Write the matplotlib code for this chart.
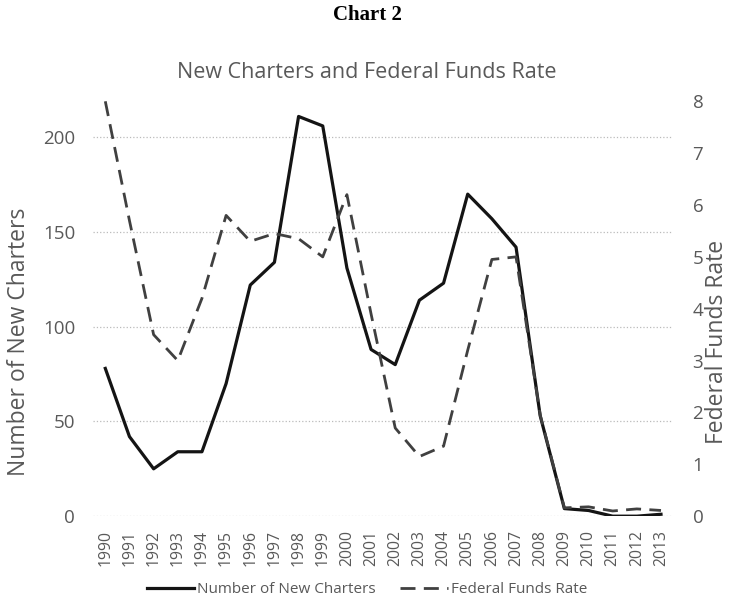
import numpy as np
from matplotlib import pyplot as plt

plt.rcParams['font.family'] = ['Open Sans', 'DejaVu Sans']

years = [str(y) for y in range(1990, 2014)]
charters = [78, 42, 25, 34, 34, 70, 122, 134, 211, 206, 131, 88, 80, 114, 123,
            170, 157, 142, 53, 4, 3, 0, 0, 1]
fed_rate = [8.0, 5.7, 3.5, 3.0, 4.2, 5.8, 5.3, 5.45, 5.35, 5.0, 6.2, 3.9, 1.7,
            1.15, 1.35, 3.2, 4.95, 5.0, 1.95, 0.16, 0.18, 0.1, 0.14, 0.11]

grey = '#595959'

fig = plt.figure(figsize=(7.34, 6.03), dpi=100)
# plot area: x 93..673 px, y 101..516 px
ax = fig.add_axes([0.127, 0.144, 0.79, 0.688])
ax2 = ax.twinx()

x = np.arange(len(years))
l1, = ax.plot(x, charters, color='#141414', lw=2.3, label='Number of New Charters')
l2, = ax2.plot(x, fed_rate, color='#404040', lw=2.0, dashes=(5.4, 3),
               label='Federal Funds Rate')

ax.set_xlim(-0.5, len(years) - 0.5)
ax.set_ylim(0, 219)
ax.set_yticks([0, 50, 100, 150, 200])
ax2.set_ylim(0, 8)
ax2.set_yticks(range(0, 9))

ax.set_xticks(x)
ax.set_xticklabels(years, rotation=90)
ax.grid(axis='y', color='#bbbbbb', ls=':', lw=0.9)
ax.set_axisbelow(True)

for a in (ax, ax2):
    for s in a.spines.values():
        s.set_visible(False)
    a.tick_params(length=0, colors=grey, labelsize=13.5)
ax.tick_params(axis='x', labelsize=11.3, pad=10)
ax.tick_params(axis='y', pad=13)
ax2.tick_params(axis='y', pad=14)

ax.set_ylabel('Number of New Charters', color=grey, fontsize=16.5)
ax.yaxis.set_label_coords(-0.107, 0.42)
ax2.set_ylabel('Federal Funds Rate', color=grey, fontsize=16.5)
ax2.yaxis.set_label_coords(1.055, 0.42)

fig.text(0.5, 0.975, 'Chart 2', ha='center', va='center', fontsize=15,
         fontweight='bold', family='Liberation Serif')
fig.text(0.5, 0.88, 'New Charters and Federal Funds Rate', ha='center',
         va='center', fontsize=15.5, color=grey)

fig.legend(handles=[l1, l2], loc='center', bbox_to_anchor=(0.5, 0.022),
           ncol=2, frameon=False, fontsize=11, labelcolor=grey,
           handlelength=3.1, handletextpad=0.2, columnspacing=1.6)

fig.savefig('out.png', dpi=100)
